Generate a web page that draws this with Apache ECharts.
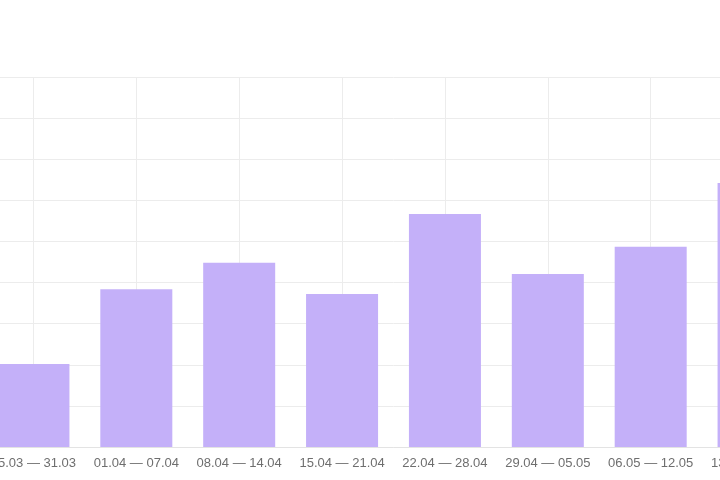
<!DOCTYPE html>
<html>
<head>
<meta charset="utf-8">
<script src="https://cdn.jsdelivr.net/npm/echarts@6/dist/echarts.min.js"></script>
<style>
html,body{margin:0;padding:0;background:#fff;width:720px;height:480px;overflow:hidden;position:relative}
#c{position:absolute;left:-18px;top:0;width:823px;height:480px}
</style>
</head>
<body>
<div id="c"></div>
<script>
const categories = ["25.03 — 31.03", "01.04 — 07.04", "08.04 — 14.04", "15.04 — 21.04", "22.04 — 28.04", "29.04 — 05.05", "06.05 — 12.05", "13.05 — 19.05"];
const values = [20.2, 38.4, 44.8, 37.2, 56.7, 42.1, 48.7, 64.2];
const yMin = 0, yMax = 90, yStep = 10;

const chart = echarts.init(document.getElementById('c'), null, {renderer: 'canvas'});
chart.setOption({
  animation: false,
  backgroundColor: '#ffffff',
  grid: {left: 0, right: 0, top: 77, bottom: 33, containLabel: false},
  xAxis: {
    type: 'category',
    data: categories,
    axisLine: {show: true, lineStyle: {color: '#e3e3e3'}},
    axisTick: {show: false},
    axisLabel: {color: '#6e6e6e', fontSize: 13, fontFamily: 'Liberation Sans, Arial, sans-serif', margin: 10, interval: 0},
    splitLine: {show: true, alignWithLabel: true, lineStyle: {color: '#ececec'}}
  },
  yAxis: {
    type: 'value', min: yMin, max: yMax, interval: yStep,
    axisLine: {show: false}, axisTick: {show: false}, axisLabel: {show: false},
    splitLine: {show: true, lineStyle: {color: '#ececec'}}
  },
  series: [{
    type: 'bar',
    data: values,
    barWidth: '70%',
    itemStyle: {color: '#c4b0f9'}
  }]
});
</script>
</body>
</html>
